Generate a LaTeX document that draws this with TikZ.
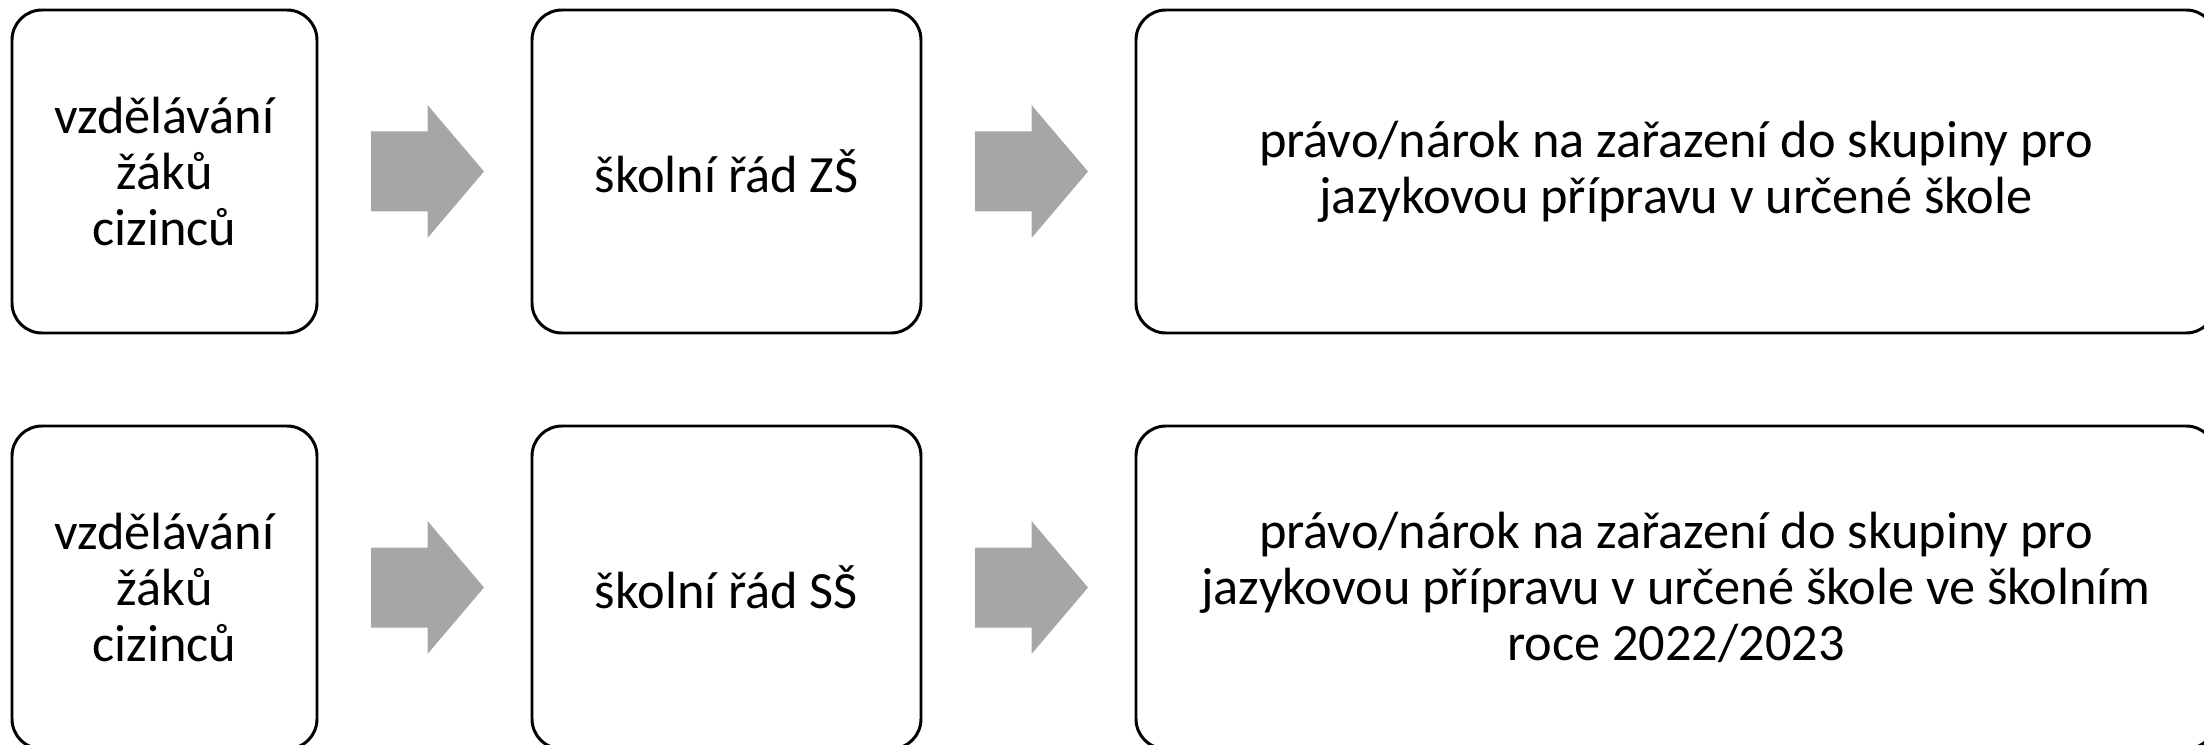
\documentclass[tikz,border=0pt]{standalone}
\usepackage{fontspec}
\setmainfont{Carlito}
\usetikzlibrary{calc}

\begin{document}
\begin{tikzpicture}
		[line join=round,
		%Styles
		step box/.style={draw,rounded corners=0.3cm,line width=0.85pt,
			minimum height=3.23cm,inner sep=0pt,align=center,
			font=\fontsize{14.9}{16}\selectfont},
		block arrow/.style={fill=arrowgray,draw=none}
		]
		
		%Colors
		\definecolor{arrowgray}{RGB}{166,166,166}	%block arrows
		
		%The graphic
		\useasboundingbox (0,0) rectangle (22.04,7.44);
		
		% upper row (ZS)
		\node[step box,minimum width=3.05cm] (zsA) at (1.645,5.725) {vzdělávání\\žáků\\cizinců};
		\node[step box,minimum width=3.89cm] (zsB) at (7.265,5.725) {školní řád ZŠ};
		\node[step box,minimum width=10.80cm] (zsC) at (16.76,5.725) {právo/nárok na zařazení do skupiny pro\\jazykovou přípravu v určené škole};
		
		% lower row (SS)
		\node[step box,minimum width=3.05cm] (ssA) at (1.645,1.565) {vzdělávání\\žáků\\cizinců};
		\node[step box,minimum width=3.89cm] (ssB) at (7.265,1.565) {školní řád SŠ};
		\node[step box,minimum width=10.80cm] (ssC) at (16.76,1.565) {právo/nárok na zařazení do skupiny pro\\jazykovou přípravu v určené škole ve školním\\roce 2022/2023};
		
		% arrows between the boxes
		\foreach \from/\to in {zsA/zsB, zsB/zsC, ssA/ssB, ssB/ssC} {
			\coordinate (gap) at ($(\from.east)!.5!(\to.west)+(.03,0)$);
			\fill[block arrow] ($(gap)+(-.565,.40)$) -- ++(.565,0) -- ++(0,.265)
				-- ($(gap)+(.565,0)$) -- ($(gap)+(0,-.665)$) -- ++(0,.265)
				-- ++(-.565,0) -- cycle;
		}
		
	\end{tikzpicture}
\end{document}
